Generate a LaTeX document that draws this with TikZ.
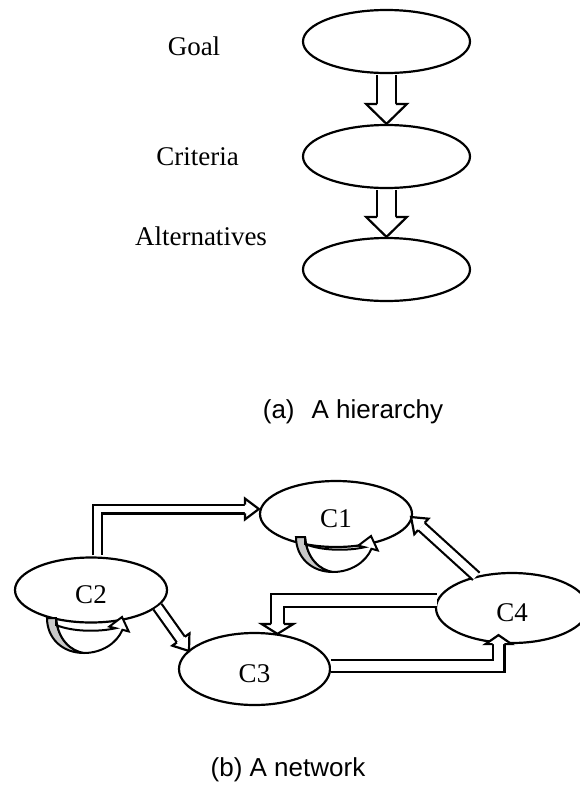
\documentclass[tikz,border=0pt]{standalone}
\usepackage{fontspec}
\setmainfont{Liberation Serif}
\newfontfamily\capfont{Liberation Sans}
\usepackage{tikz}
\usetikzlibrary{shapes.geometric, positioning, calc, decorations.markings}
\definecolor{loopgray}{RGB}{200,200,200}
\tikzstyle{level} = [draw, ellipse, line width=2.2pt, inner sep=0pt, minimum width=167pt, minimum height=63pt]
\tikzstyle{cluster} = [draw, ellipse, line width=2.2pt, inner sep=0pt, minimum width=152pt, text height=27pt, text depth=0pt, font=\fontsize{27}{30}\selectfont]
\tikzstyle{tag} = [anchor=base, inner sep=0pt, font=\fontsize{27}{30}\selectfont]
\tikzstyle{caption} = [anchor=base, inner sep=0pt, font=\capfont\fontsize{26}{30}\selectfont]
\tikzset{
  % hollow block arrow: gap of the shaft, half width of the head, length of the head
  block/.style n args={3}{double, double distance=#1pt, line width=2.2pt, shorten <=1pt, shorten >=#3pt,
    postaction={decorate, decoration={markings, mark=at position 1 with {%
      \draw[fill=white, line width=2.2pt, shorten <=0pt, shorten >=0pt]
        (-#3pt,{(#1/2+1.1)*1pt}) -- (-#3pt,#2pt) -- (0pt,0pt) -- (-#3pt,-#2pt) -- (-#3pt,{-(#1/2+1.1)*1pt});}}}},
  % curved arrow of a cluster on itself
  selfloop/.pic={
    \draw[fill=loopgray, line width=2pt] (0,0) .. controls (0,20) and (15,35) .. (37,35)
      .. controls (24,33) and (11,22) .. (9,0) -- cycle;
    \draw[fill=white, line width=2pt] (9,0) .. controls (11,22) and (24,33) .. (37,35)
      .. controls (55,35) and (70,25) .. (75.4,11.8) -- (81.7,13.4) -- (75,-1) -- (62.3,8.6) -- (68.6,10.2)
      .. controls (52,14) and (26,14) .. (9,7) -- cycle;
  }
}

\begin{document}
\begin{tikzpicture}[x=1pt, y=-1pt, node distance=115pt, on grid]
    \useasboundingbox (0,0) rectangle (579,790);
    % (a) the hierarchy
    \node[level] (goal) at (386.5,41.5) {};
    \node[level] (crit) [below=of goal] {};
    \node[level] (alt) [below=113pt of crit] {};
    \node[tag] (goaltag) at (194,55) {Goal};
    \node[tag] (crittag) at (197.5,165) {Criteria};
    \node[tag] (alttag) at (201,245) {Alternatives};
    \draw[block={16.6}{20.5}{20}] (goal) -- (crit);
    \draw[block={16.6}{20.5}{20}] (crit) -- (alt);
    \node[caption] (capa) at (353,418) {(a)\hspace{17pt}A hierarchy};

    % (b) the network
    \node[cluster, minimum height=66pt] (c1) at (336,514) {C1};
    \node[cluster, minimum height=65pt] (c2) at (91,590) {C2};
    \node[cluster, minimum width=151pt, minimum height=72pt] (c3) at (254.5,669) {C3};
    \node[cluster, minimum height=70pt] (c4) at (512,608) {C4};
    \draw[block={6.6}{10.5}{14}] ($(c2.north)+(6.5,0)$) |- ($(c1.west)+(0,-5)$);
    \draw[block={7.6}{10.5}{14}] ($(c4.center)+(-35,-31)$) -- ($(c1.center)+(75,3)$);
    \draw[block={7.6}{10.5}{14}] ($(c2.center)+(66,16)$) -- ($(c3.center)+(-65.5,-18)$);
    \draw[block={10.6}{16}{10}] ($(c4.center)+(-74.2,-7.5)$) -| ($(c3.north)+(23,2)$);
    \draw[block={9.6}{13}{9}] ($(c3.center)+(75.3,-3)$) -| ($(c4.south)+(-13.5,-9)$);
    \pic at ($(c1.center)+(-40,23)$) {selfloop};
    \pic at ($(c2.center)+(-44,28)$) {selfloop};
    \node[caption] (capb) at (288,776) {(b) A network};
\end{tikzpicture}
\end{document}
